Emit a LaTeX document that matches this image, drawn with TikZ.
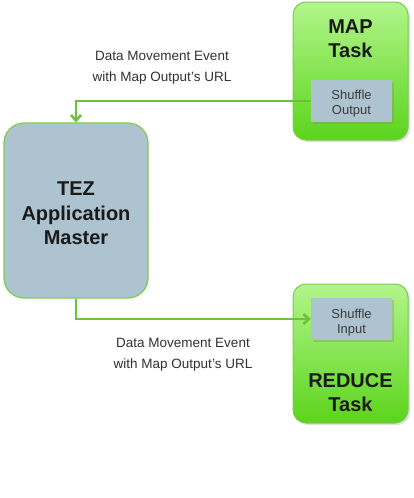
\documentclass[tikz,border=0pt]{standalone}
\usepackage{fontspec}
\setmainfont{Liberation Sans}
\usetikzlibrary{shadows,arrows.meta}
\definecolor{gtop}{HTML}{B2F58C}
\definecolor{gbot}{HTML}{5CD41C}
\definecolor{gborder}{HTML}{7CCB4E}
\definecolor{blueg}{HTML}{ADC4D0}
\definecolor{arrowg}{HTML}{6CC23F}
\definecolor{txt}{HTML}{1A1A1A}
\tikzset{
  task/.style={rectangle, rounded corners=13pt, draw=gborder, line width=1pt,
    top color=gtop, bottom color=gbot, minimum width=115pt, minimum height=138pt,
    drop shadow={opacity=0.25, shadow xshift=2pt, shadow yshift=-2pt}},
  master/.style={rectangle, rounded corners=20pt, draw=gborder, line width=1.2pt,
    fill=blueg, minimum width=144pt, minimum height=175pt},
  shuf/.style={rectangle, fill=blueg, minimum width=81pt, minimum height=42pt,
    drop shadow={opacity=0.3, shadow xshift=1.5pt, shadow yshift=-1.5pt}},
  shuftxt/.style={font=\fontsize{13}{15}\selectfont, text=txt!85, align=center, inner sep=0pt},
  bigtxt/.style={font=\fontsize{20}{24}\selectfont\bfseries, text=txt, align=center, inner sep=0pt},
  lbl/.style={font=\fontsize{13.5}{21}\selectfont, text=txt!90, align=center, inner sep=0pt},
  flow/.style={draw=arrowg, line width=2.4pt, -{Straight Barb[length=5.5pt,width=10pt,line width=2.6pt]}}
}
\begin{document}
\begin{tikzpicture}[x=1pt,y=-1pt]
\useasboundingbox (0,0) rectangle (413,498);
\node[task] (map) at (350.5,71) {};
\node[shuf] (mapout) at (351.5,101) {};
\node[shuftxt] (mapouttxt) at (351.5,103.5) {Shuffle\\Output};
\node[bigtxt] (maptxt) at (350.5,38.5) {MAP\\Task};
\node[task, minimum height=139pt] (red) at (350.5,353.5) {};
\node[shuf] (redin) at (351.5,319) {};
\node[shuftxt] (redintxt) at (351.5,322.5) {Shuffle\\Input};
\node[bigtxt] (redtxt) at (350.5,392.5) {REDUCE\\Task};
\node[master] (tez) at (76,210.5) {};
\node[bigtxt, font=\fontsize{20}{24.5}\selectfont\bfseries] (teztxt) at (76,213.5) {TEZ\\Application\\Master};
\node[lbl] (l1) at (162,68) {Data Movement Event\\with Map Output’s URL};
\node[lbl] (l2) at (183,355) {Data Movement Event\\with Map Output’s URL};
\draw[flow] (mapout.west) -| (tez.north);
\draw[flow] (tez.south) |- (redin.west);
\end{tikzpicture}
\end{document}
